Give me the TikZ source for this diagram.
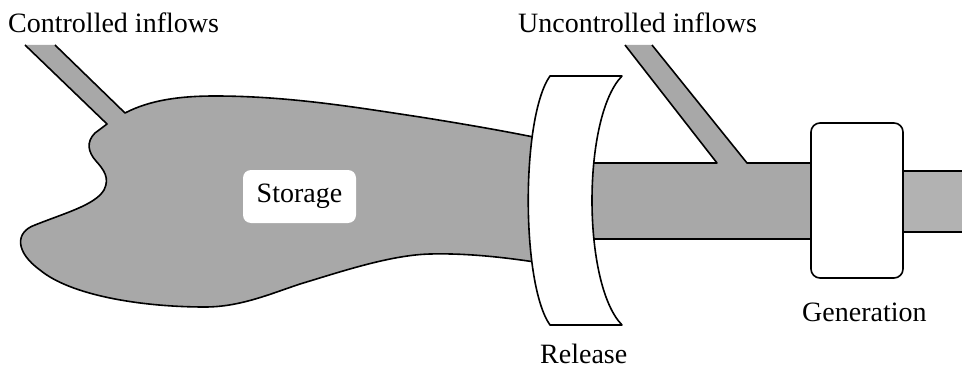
\documentclass[tikz,border=0pt]{standalone}
\usepackage{fontspec}
\setmainfont{Liberation Serif}
\begin{document}
\begin{tikzpicture}[x=1pt,y=-1pt,
  water/.style={fill=black!34, draw=black, line width=1.6pt, line join=round},
  gate/.style={fill=white, draw=black, line width=1.6pt, line join=round},
  lbl/.style={font=\fontsize{28}{32}\selectfont, inner sep=0pt, anchor=base west}]
\useasboundingbox[fill=white] (0,0) rectangle (962,369);

% reservoir with its controlled inflow channel
\filldraw[water] (55,45) -- (125,113)
  .. controls (150,100) and (180,96) .. (215,96)
  .. controls (290,96) and (360,108) .. (420,117)
  .. controls (470,125) and (510,132) .. (548,140)
  -- (548,264)
  .. controls (510,258) and (470,253) .. (430,254)
  .. controls (390,255) and (340,272) .. (300,284)
  .. controls (270,294) and (240,307) .. (205,307)
  .. controls (140,307) and (70,295) .. (40,270)
  .. controls (15,252) and (15,232) .. (35,225)
  .. controls (65,213) and (95,205) .. (104,190)
  .. controls (110,178) and (104,170) .. (96,161)
  .. controls (88,152) and (86,142) .. (95,133)
  -- (107,124) -- (25,45);

% river below the dam, joined by the uncontrolled inflow
\filldraw[water] (652,45) -- (747,163) -- (830,163) -- (830,239)
  -- (580,239) -- (580,163) -- (717,163) -- (625,45);

% outlet channel below the power plant
\fill[black!30] (890,171) rectangle (962,232);
\draw[line width=1.6pt] (890,171) -- (962,171);
\draw[line width=1.6pt] (890,232) -- (962,232);

% dam
\draw[gate] (550,76) -- (622,76)
  .. controls (582,117) and (582,284) .. (622,325)
  -- (550,325)
  .. controls (521,284) and (521,117) .. (550,76) -- cycle;

% power plant
\node[gate, rounded corners=9pt, minimum width=92pt, minimum height=155pt, inner sep=0pt]
  (gen) at (857,200.5) {};

% storage label
\node[fill=white, rounded corners=8pt, minimum width=113pt, minimum height=53pt,
  inner sep=0pt, font=\fontsize{28}{32}\selectfont] (stor) at (299.5,196.5) {Storage};

% labels
\node[lbl] (cin) at (8,33) {Controlled inflows};
\node[lbl] (uin) at (518,33) {Uncontrolled inflows};
\node[lbl] (rel) at (540,363) {Release};
\node[lbl] (genl) at (802,321) {Generation};
\end{tikzpicture}
\end{document}
